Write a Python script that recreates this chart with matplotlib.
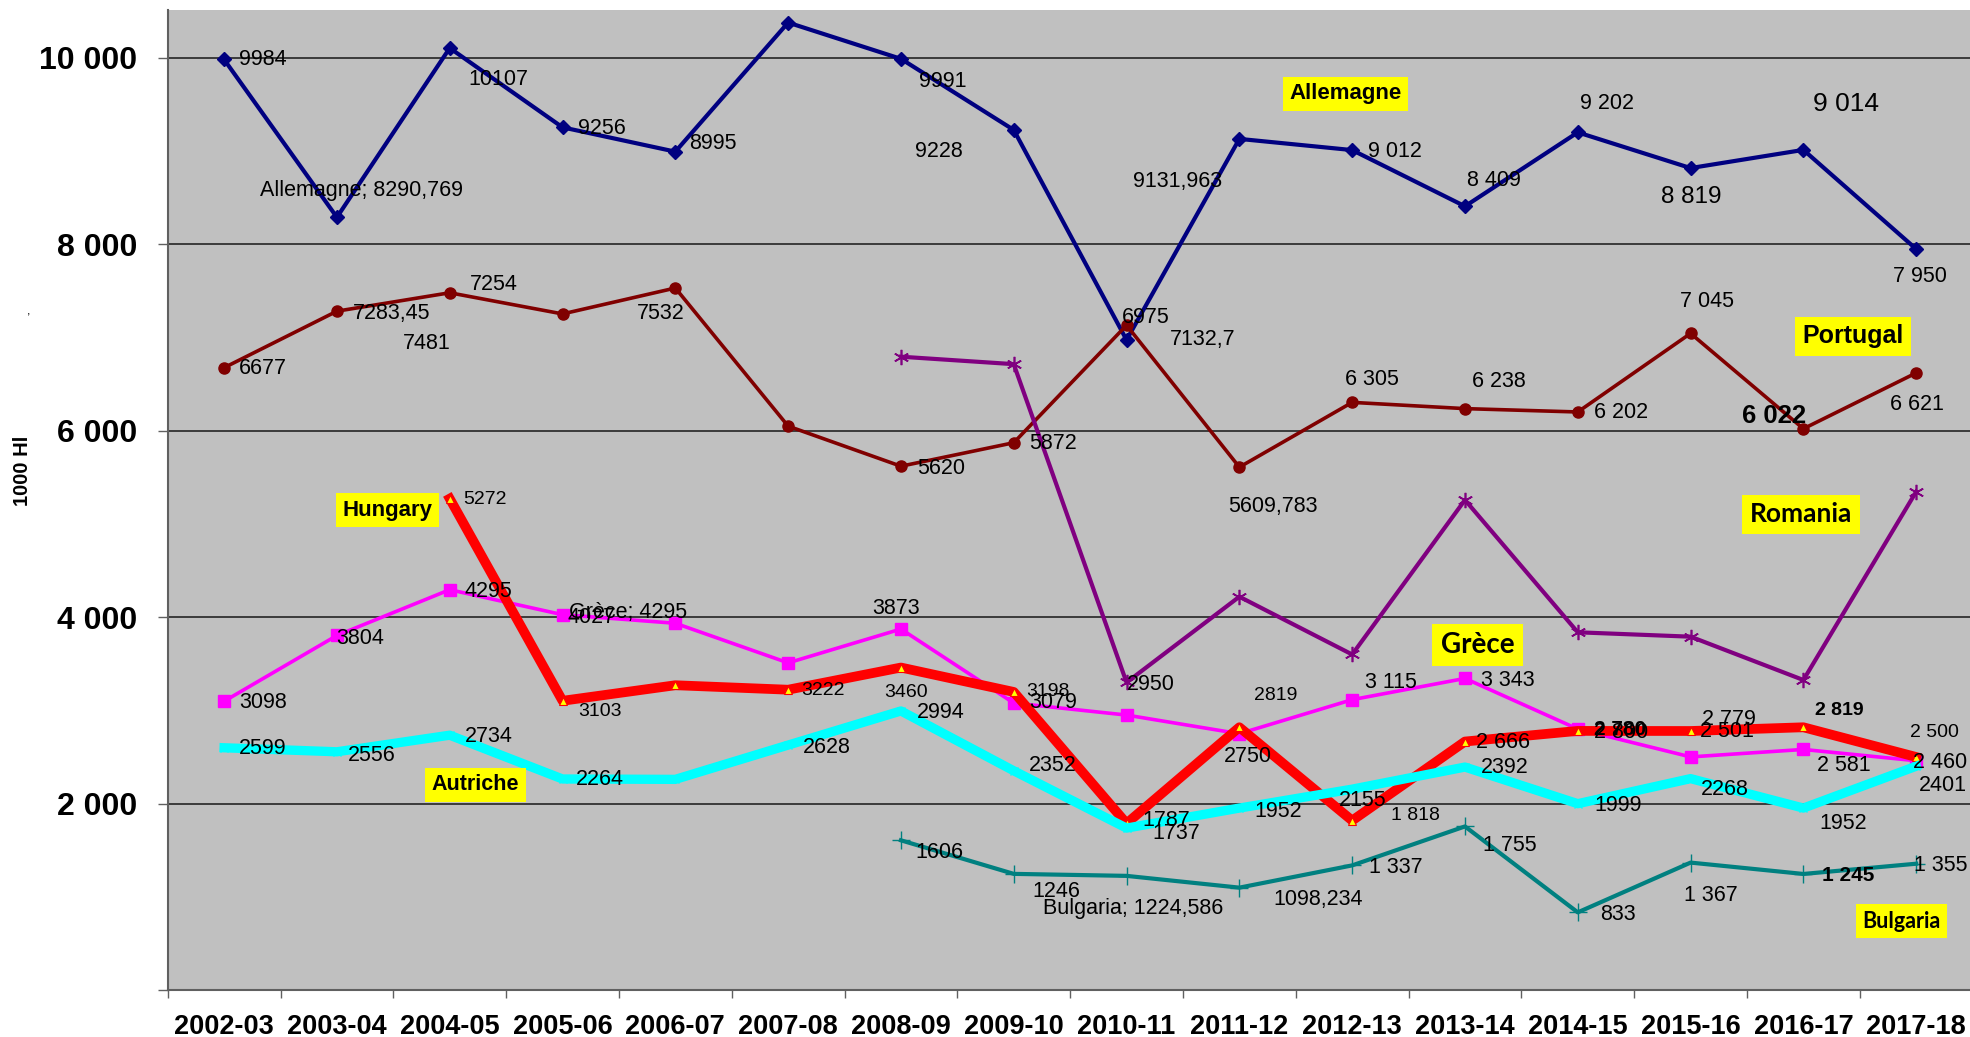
import matplotlib

matplotlib.use("Agg")
import matplotlib.pyplot as plt
import numpy as np
from matplotlib.ticker import FixedLocator, FixedFormatter, NullFormatter

plt.rcParams["font.family"] = ["Liberation Sans", "DejaVu Sans"]

nan = np.nan

CATEGORIES = [
    "2002-03", "2003-04", "2004-05", "2005-06", "2006-07", "2007-08",
    "2008-09", "2009-10", "2010-11", "2011-12", "2012-13", "2013-14",
    "2014-15", "2015-16", "2016-17", "2017-18",
]

ALLEMAGNE = [9984, 8290.769, 10107, 9256, 8995, 10380, 9991, 9228,
             6975, 9131.963, 9012, 8409, 9202, 8819, 9014, 7950]
PORTUGAL = [6677, 7283.45, 7481, 7254, 7532, 6050, 5620, 5872,
            7132.7, 5609.783, 6305, 6238, 6202, 7045, 6022, 6621]
ROMANIA = [nan, nan, nan, nan, nan, nan, 6795, 6715,
           3300, 4220, 3600, 5258, 3838, 3791, 3326, 5347]
GRECE = [3098, 3804, 4295, 4027, 3935, 3510, 3873, 3079,
         2950, 2750, 3115, 3343, 2800, 2501, 2581, 2460]
HUNGARY = [nan, nan, 5272, 3103, 3270, 3222, 3460, 3198,
           1787, 2819, 1818, 2666, 2780, 2779, 2819, 2500]
AUTRICHE = [2599, 2556, 2734, 2264, 2260, 2628, 2994, 2352,
            1737, 1952, 2155, 2392, 1999, 2268, 1952, 2401]
BULGARIA = [nan, nan, nan, nan, nan, nan, 1606, 1246,
            1224.586, 1098.234, 1337, 1755, 833, 1367, 1245, 1355]

# data label texts as printed on the chart (None = no label)
ALLEMAGNE_LABELS = ["9984", "Allemagne; 8290,769", "10107", "9256", "8995", None,
                    "9991", "9228", "6975", "9131,963", "9 012", "8 409",
                    "9 202", "8 819", "9 014", "7 950"]
PORTUGAL_LABELS = ["6677", "7283,45", "7481", "7254", "7532", None, "5620", "5872",
                   "7132,7", "5609,783", "6 305", "6 238", "6 202", "7 045",
                   "6 022", "6 621"]
GRECE_LABELS = ["3098", "3804", "4295", "4027", "Grèce; 4295", None, "3873", "3079",
                "2950", "2750", "3 115", "3 343", "2 800", "2 501", "2 581", "2 460"]
HUNGARY_LABELS = [None, None, "5272", "3103", None, "3222", "3460", "3198",
                  "1787", "2819", "1 818", "2 666", "2 780", "2 779", "2 819", "2 500"]
AUTRICHE_LABELS = ["2599", "2556", "2734", "2264", None, "2628", "2994", "2352",
                   "1737", "1952", "2155", "2392", "1999", "2268", "1952", "2401"]
BULGARIA_LABELS = [None, None, None, None, None, None, "1606", "1246",
                   "Bulgaria; 1224,586", "1098,234", "1 337", "1 755", "833",
                   "1 367", "1 245", "1 355"]

# label placement (offset in pixels from the point, y up)
ALLEMAGNE_OFF = [(39, 0), (25, 27), (49, -31), (39, -1), (38, 8), None, (42, -23),
                 (-75, -22), (19, 22), (-62, -43), (43, -1), (29, 26), (29, 29),
                 (1, -29), (43, 46), (4, -27)]
PORTUGAL_OFF = [(39, -1), (55, -2), (-23, -51), (-69, 29), (-15, -25), None, (40, -2),
                (39, -1), (76, -14), (34, -39), (20, 23), (34, 27), (43, -1),
                (16, 32), (-29, 13), (1, -32)]
GRECE_OFF = [(39, -1), (23, -3), (39, -2), (29, -3), (-47, 11), None, (-5, 21),
             (39, 1), (24, 31), (9, -23), (39, 17), (43, -2), (43, -3), (36, 25),
             (40, -16), (24, -2)]
HUNGARY_OFF = [None, None, (35, -1), (37, -11), None, (35, -1), (5, -25), (34, 0),
               (40, 3), (36, 32), (63, 5), (38, -1), (42, 1), (38, 11), (36, 17),
               (18, 24)]
AUTRICHE_OFF = [(39, -1), (35, -4), (39, -1), (37, -1), None, (39, -2), (40, -2),
                (39, 5), (50, -5), (39, -3), (11, -11), (40, 0), (40, -2), (34, -11),
                (40, -15), (27, -19)]
BULGARIA_OFF = [None] * 6 + [(38, -12), (43, -18), (7, -33), (79, -12), (44, -2),
                             (45, -19), (40, -2), (20, -33), (45, -2), (25, -2)]

# labels with a non default look: (series, index) -> (size, weight)
SPECIAL = {
    ("Allemagne", 13): (17.5, "normal"),
    ("Allemagne", 14): (19, "normal"),
    ("Portugal", 14): (18.5, "bold"),
    ("Hungary", 2): (14, "normal"),
    ("Hungary", 3): (14, "normal"),
    ("Hungary", 5): (14, "normal"),
    ("Hungary", 6): (14, "normal"),
    ("Hungary", 7): (14, "normal"),
    ("Hungary", 9): (14, "normal"),
    ("Hungary", 10): (14, "normal"),
    ("Hungary", 12): (15, "bold"),
    ("Hungary", 14): (14, "bold"),
    ("Hungary", 15): (14, "normal"),
    ("Bulgaria", 14): (15, "bold"),
}

SERIES = [
    # name, values, labels, offsets, style
    ("Allemagne", ALLEMAGNE, ALLEMAGNE_LABELS, ALLEMAGNE_OFF,
     dict(color="#000080", lw=3.0, marker="D", ms=7, zorder=3)),
    ("Portugal", PORTUGAL, PORTUGAL_LABELS, PORTUGAL_OFF,
     dict(color="#800000", lw=2.6, marker="o", ms=8, zorder=4)),
    ("Romania", ROMANIA, [None] * 16, [None] * 16,
     dict(color="#800080", lw=3.0, marker=(6, 2, 0), ms=11, mew=1.2, zorder=5)),
    ("Grèce", GRECE, GRECE_LABELS, GRECE_OFF,
     dict(color="#FF00FF", lw=2.6, marker="s", ms=9, zorder=6)),
    ("Hungary", HUNGARY, HUNGARY_LABELS, HUNGARY_OFF,
     dict(color="#FF0000", lw=7.0, marker="^", ms=6, mfc="#FFFF00", mec="#FF0000",
          mew=0.8, zorder=7)),
    ("Autriche", AUTRICHE, AUTRICHE_LABELS, AUTRICHE_OFF,
     dict(color="#00FFFF", lw=6.7, marker="x", ms=6, mew=1.0, zorder=8)),
    ("Bulgaria", BULGARIA, BULGARIA_LABELS, BULGARIA_OFF,
     dict(color="#008080", lw=3.0, marker="+", ms=13, mew=1.0, zorder=9)),
]

fig = plt.figure(figsize=(19.7, 10.37), dpi=100)
fig.patch.set_facecolor("white")
ax = fig.add_axes([167.7 / 1970, 47 / 1037, (1972.6 - 167.7) / 1970, 980 / 1037])
ax.set_facecolor("#C0C0C0")

x = np.arange(len(CATEGORIES)) + 0.5

for name, values, labels, offsets, style in SERIES:
    ax.plot(x, values, **style)
    for i, (lab, off) in enumerate(zip(labels, offsets)):
        if lab is None:
            continue
        size, weight = SPECIAL.get((name, i), (15.5, "normal"))
        ax.annotate(lab, (x[i], values[i]), xytext=off, textcoords="offset pixels",
                    ha="center", va="center", fontsize=size, fontweight=weight,
                    color="black", zorder=20)

ax.set_xlim(0, len(CATEGORIES))
ax.set_ylim(0, 10515)

ax.yaxis.set_major_locator(FixedLocator([0, 2000, 4000, 6000, 8000, 10000]))
ax.yaxis.set_major_formatter(FixedFormatter(["", "2 000", "4 000", "6 000", "8 000", "10 000"]))
ax.grid(axis="y", color="#303030", linewidth=1.3)
ax.set_axisbelow(True)

ax.xaxis.set_major_locator(FixedLocator(np.arange(len(CATEGORIES) + 1)))
ax.xaxis.set_major_formatter(NullFormatter())
ax.xaxis.set_minor_locator(FixedLocator(x))
ax.xaxis.set_minor_formatter(FixedFormatter(CATEGORIES))
ax.tick_params(axis="x", which="major", length=6, width=1.0, color="#606060", direction="out")
ax.tick_params(axis="x", which="minor", length=0, pad=17, labelsize=19.5)
ax.tick_params(axis="y", length=7, width=1.0, color="#606060", pad=15, labelsize=23)
for lab in ax.get_xticklabels(minor=True) + ax.get_yticklabels():
    lab.set_fontweight("bold")

for side in ("top", "right"):
    ax.spines[side].set_visible(False)
for side in ("left", "bottom"):
    ax.spines[side].set_color("#606060")
    ax.spines[side].set_linewidth(1.5)

ax.set_ylabel("1000 Hl", fontsize=14.5, fontweight="bold")
ax.yaxis.set_label_coords(-0.0752, 0.53)
fig.text(29 / 1970, 1 - 312 / 1037, ",", fontsize=9, ha="center", va="center")

# series names in yellow boxes
NAME_BOXES = [
    ("Allemagne", 10.44, 9614, 16, "Liberation Sans"),
    ("Portugal", 14.94, 7012, 18, "Liberation Sans"),
    ("Romania", 14.48, 5102, 19, "Lato"),
    ("Grèce", 11.61, 3702, 20, "Lato"),
    ("Bulgaria", 15.37, 740, 15.5, "Lato"),
    ("Hungary", 1.95, 5150, 16, "Liberation Sans"),
    ("Autriche", 2.73, 2200, 15.5, "Liberation Sans"),
]
for text, bx, by, size, family in NAME_BOXES:
    ax.text(bx, by, text, ha="center", va="center", fontsize=size, fontweight="bold",
            family=family, zorder=21,
            bbox=dict(boxstyle="square,pad=0.3", fc="#FFFF00", ec="none"))

fig.savefig("out.png", dpi=100)
